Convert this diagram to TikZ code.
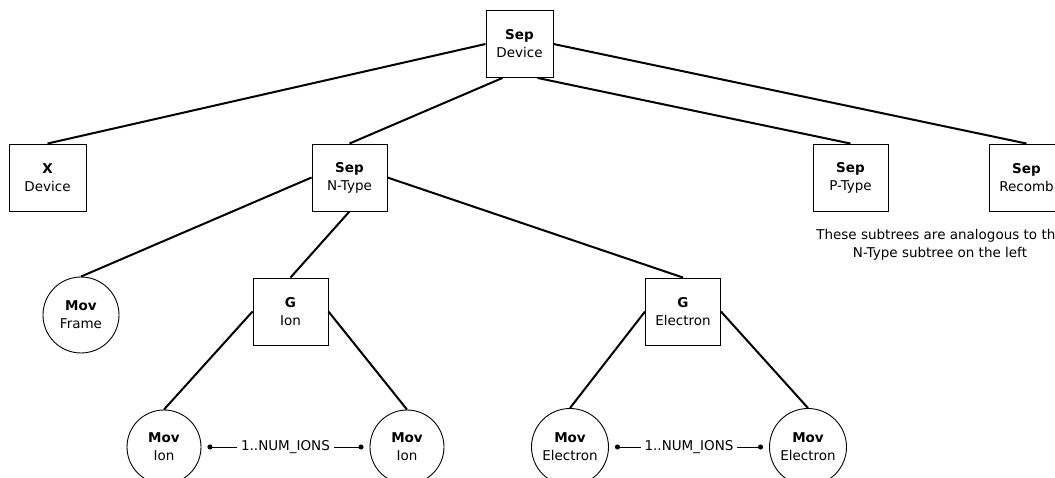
\documentclass[tikz,border=0pt]{standalone}
\usepackage{fontspec}
\setmainfont{DejaVu Sans}
\usetikzlibrary{arrows.meta,positioning}

\begin{document}
\begin{tikzpicture}[
    x=1pt, y=-1pt,
    font=\fontsize{13.5}{18}\selectfont,
    box/.style={
        draw,
        line width=0.9pt,
        align=center,
        inner sep=0pt,
        minimum width=75pt,
        minimum height=67pt
    },
    mov/.style={
        draw,
        circle,
        line width=0.9pt,
        align=center,
        inner sep=0pt,
        minimum size=76pt
    },
    edge/.style={
        line width=2pt
    },
    count/.style={
        {Circle[length=5pt]}-{Circle[length=5pt]},
        line width=0.9pt,
        shorten <=6pt,
        shorten >=6pt
    },
    countlabel/.style={
        fill=white,
        inner xsep=4pt,
        inner ysep=1pt
    }
]
\useasboundingbox (0,0) rectangle (1055,478);

% top level
\node[box, minimum width=67pt] (sepdev) at (519.5,44) {\textbf{Sep}\\Device};

\node[box, minimum width=77pt] (xdev) at (47.5,177.5) {\textbf{X}\\Device};
\node[box] (ntype) at (349.5,177.5) {\textbf{Sep}\\N-Type};
\node[box] (ptype) at (850.5,177.5) {\textbf{Sep}\\P-Type};
\node[box] (recomb) at (1026.5,177.5) {\textbf{Sep}\\Recomb};

\node[align=center] (note) at (940,245) {These subtrees are analogous to the\\N-Type subtree on the left};

% N-Type subtree
\node[mov] (frame) at (81,315) {\textbf{Mov}\\Frame};
\node[box] (gion) at (290.5,311.5) {\textbf{G}\\Ion};
\node[box] (gelec) at (683,311.5) {\textbf{G}\\Electron};

\node[mov, minimum size=74pt] (ion1) at (164,447) {\textbf{Mov}\\Ion};
\node[mov, minimum size=74pt] (ion2) at (407,447) {\textbf{Mov}\\Ion};
\node[mov, minimum size=77pt] (elec1) at (570,447) {\textbf{Mov}\\Electron};
\node[mov, minimum size=77pt] (elec2) at (808,447) {\textbf{Mov}\\Electron};

\draw[edge] (sepdev.west) -- (xdev.north);
\draw[edge] ([xshift=-17pt]sepdev.south) -- (ntype.north);
\draw[edge] ([xshift=18pt]sepdev.south) -- (ptype.north);
\draw[edge] (sepdev.east) -- (recomb.north);

\draw[edge] (ntype.west) -- (frame.north);
\draw[edge] (ntype.south) -- (gion.north);
\draw[edge] (ntype.east) -- (gelec.north);

\draw[edge] (gion.west) -- (ion1.north);
\draw[edge] (gion.east) -- (ion2.north);
\draw[edge] (gelec.west) -- (elec1.north);
\draw[edge] (gelec.east) -- (elec2.north);

\draw[count] (ion1) -- node[countlabel] {1..NUM\_IONS} (ion2);
\draw[count] (elec1) -- node[countlabel] {1..NUM\_IONS} (elec2);

\end{tikzpicture}
\end{document}
